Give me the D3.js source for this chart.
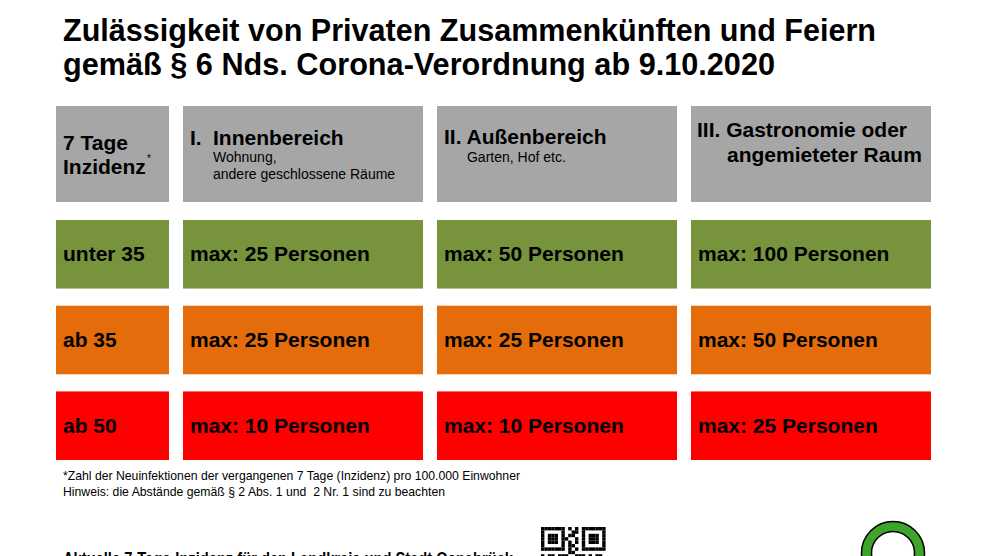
<!DOCTYPE html>
<html>
<head>
<meta charset="utf-8">
<script src="https://cdn.jsdelivr.net/npm/d3@7"></script>
<style>
  body { margin: 0; background: #fff; }
  svg { display: block; font-family: "Liberation Sans", Arial, sans-serif; }
</style>
</head>
<body>
<svg id="chart"></svg>
<script>
// data
var levels = ['unter 35', 'ab 35', 'ab 50'];
var levelColors = ['#77933c', '#e46c0a', '#ff0000'];
var areas = ['I.', 'II.', 'III.'];
var innen = [25, 25, 10];
var aussen = [50, 25, 10];
var gastro = [100, 50, 25];
var titleLines = ['Zulässigkeit von Privaten Zusammenkünften und Feiern',
                  'gemäß § 6 Nds. Corona-Verordnung ab 9.10.2020'];
var notes = ['*Zahl der Neuinfektionen der vergangenen 7 Tage (Inzidenz) pro 100.000 Einwohner',
             'Hinweis: die Abstände gemäß § 2 Abs. 1 und  2 Nr. 1 sind zu beachten'];

var width = 990, height = 556;
var svg = d3.select('#chart').attr('width', width).attr('height', height);

var values = [innen, aussen, gastro];

// scales
var x = d3.scaleBand().domain(areas).range([183, 931]).paddingInner(0.055);
var y = d3.scaleBand().domain(levels).range([220, 460]).paddingInner(0.2);
var color = d3.scaleOrdinal().domain(levels).range(levelColors);
var labelX = 56, labelW = 113;

// title (condensed like the original)
var titleLen = [813, 712];
svg.selectAll('text.title').data(titleLines).enter().append('text')
    .attr('class', 'title')
    .attr('x', 63)
    .attr('y', function (d, i) { return 41 + i * 34; })
    .attr('textLength', function (d, i) { return titleLen[i]; })
    .attr('lengthAdjust', 'spacingAndGlyphs')
    .style('font-weight', 'bold').style('font-size', '31px')
    .text(function (d) { return d; });

// header row
var hTop = 106, hH = 96, grey = '#a6a6a6';
svg.append('rect').attr('x', labelX).attr('y', hTop).attr('width', labelW).attr('height', hH).attr('fill', grey);
svg.selectAll('rect.head').data(areas).enter().append('rect')
    .attr('class', 'head')
    .attr('x', function (d) { return x(d); })
    .attr('y', hTop).attr('width', x.bandwidth()).attr('height', hH)
    .attr('fill', grey);

function txt(xp, yp, s, size, bold) {
    return svg.append('text').attr('x', xp).attr('y', yp)
        .style('font-size', size + 'px')
        .style('font-weight', bold ? 'bold' : 'normal')
        .text(s);
}
txt(63, 150, '7 Tage', 21, true);
txt(63, 174, 'Inzidenz', 21, true);
txt(147, 162, '*', 10, false);

txt(x('I.') + 7, 145, 'I.', 21, true);
txt(x('I.') + 30, 145, 'Innenbereich', 21, true);
txt(x('I.') + 30, 162, 'Wohnung,', 14, false);
txt(x('I.') + 30, 179, 'andere geschlossene Räume', 14, false);

txt(x('II.') + 7, 144, 'II. Außenbereich', 21, true);
txt(x('II.') + 30, 162, 'Garten, Hof etc.', 14, false);

txt(x('III.') + 6, 137, 'III. Gastronomie oder', 21, true);
txt(x('III.') + 36, 162, 'angemieteter Raum', 21, true);

// body rows
var rows = svg.selectAll('g.row').data(levels).enter().append('g')
    .attr('class', 'row')
    .attr('transform', function (d) { return 'translate(0,' + y(d) + ')'; });

rows.append('rect')
    .attr('x', labelX).attr('width', labelW).attr('height', y.bandwidth())
    .attr('fill', function (d) { return color(d); });
rows.append('text')
    .attr('x', 63).attr('y', y.bandwidth() / 2 + 7)
    .style('font-size', '21px').style('font-weight', 'bold')
    .text(function (d) { return d; });

rows.each(function (lvl, r) {
    var g = d3.select(this);
    g.selectAll('rect.cell').data(areas).enter().append('rect')
        .attr('class', 'cell')
        .attr('x', function (a) { return x(a); })
        .attr('width', x.bandwidth()).attr('height', y.bandwidth())
        .attr('fill', color(lvl));
    g.selectAll('text.cell').data(areas).enter().append('text')
        .attr('class', 'cell')
        .attr('x', function (a) { return x(a) + 7; })
        .attr('y', y.bandwidth() / 2 + 7)
        .style('font-size', '21px').style('font-weight', 'bold')
        .text(function (a, i) { return 'max: ' + values[i][r] + ' Personen'; });
});

// footnotes
var noteLen = [457, 382];
svg.selectAll('text.note').data(notes).enter().append('text')
    .attr('class', 'note')
    .attr('x', 63)
    .attr('y', function (d, i) { return 480 + i * 16; })
    .attr('textLength', function (d, i) { return noteLen[i]; })
    .attr('lengthAdjust', 'spacingAndGlyphs')
    .style('font-size', '13.5px')
    .style('white-space', 'pre')
    .text(function (d) { return d; });

// bottom line (cut off by the frame, as in the original)
txt(63, 565, 'Aktuelle 7-Tage-Inzidenz für den Landkreis und Stadt Osnabrück', 18, true)
    .attr('textLength', 450).attr('lengthAdjust', 'spacingAndGlyphs');

// QR code (decorative)
var qr = [
    '1111111010101111111',
    '1000001001101000001',
    '1011101011001011101',
    '1011101100101011101',
    '1011101010101011101',
    '1000001011001000001',
    '1111111010101111111',
    '0000000011000000000',
    '1011011100111010110',
    '0100100011010101011',
    '1101110110011101101',
    '0110101001110110010'
];
var m = 3.4;
qr.forEach(function (row, ri) {
    row.split('').forEach(function (c, ci) {
        if (c === '1') svg.append('rect')
            .attr('x', 541 + ci * m).attr('y', 527 + ri * m)
            .attr('width', m).attr('height', m).attr('fill', '#000');
    });
});

// green ring
var arc = d3.arc().innerRadius(21.5).outerRadius(31.5).startAngle(0).endAngle(2 * Math.PI);
svg.append('path').attr('d', arc())
    .attr('transform', 'translate(893,553)')
    .attr('fill', '#3ea42a').attr('stroke', '#000').attr('stroke-width', 1.5);
</script>
</body>
</html>
